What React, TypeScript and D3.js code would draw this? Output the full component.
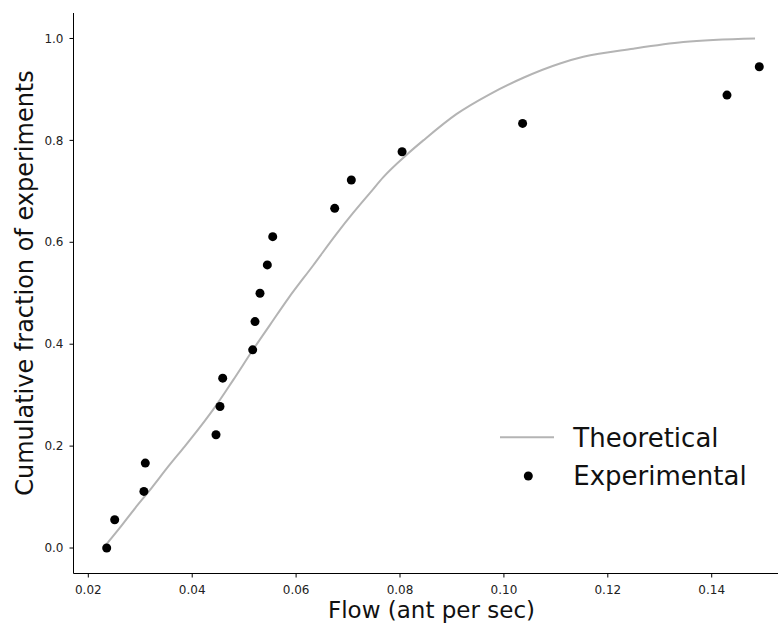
import React from "react";
import * as d3 from "d3";

// Experimental data (flow, cumulative fraction)
const expFlow = [
  0.02354, 0.02508, 0.0307, 0.03097, 0.04458, 0.04535, 0.04587, 0.05164, 0.05209,
  0.05305, 0.05446, 0.0555, 0.06743, 0.07063, 0.0804, 0.1036, 0.14294, 0.14916,
];
const expFrac = [
  0, 1 / 18, 2 / 18, 3 / 18, 4 / 18, 5 / 18, 6 / 18, 7 / 18, 8 / 18, 9 / 18,
  10 / 18, 11 / 18, 12 / 18, 13 / 18, 14 / 18, 15 / 18, 16 / 18, 17 / 18,
];

// Theoretical curve samples
const theoFlow = [
  0.0233, 0.02578, 0.02899, 0.0322, 0.0354, 0.03861, 0.04246, 0.04406, 0.04791,
  0.05176, 0.05498, 0.0585, 0.06331, 0.06782, 0.07101, 0.07423, 0.07679, 0.08129,
  0.08449, 0.09092, 0.09733, 0.10374, 0.1108, 0.11529, 0.12491, 0.13454, 0.14834,
];
const theoFrac = [
  0.005, 0.036, 0.078, 0.118, 0.16, 0.2, 0.25, 0.272, 0.33, 0.39, 0.438, 0.49,
  0.555, 0.617, 0.658, 0.697, 0.728, 0.772, 0.8, 0.852, 0.891, 0.923, 0.951, 0.964,
  0.98, 0.993, 1.0,
];

const xTicks = [0.02, 0.04, 0.06, 0.08, 0.1, 0.12, 0.14];
const yTicks = [0, 0.2, 0.4, 0.6, 0.8, 1.0];

const W = 778;
const H = 624;
const FONT = "DejaVu Sans, sans-serif";

export default function App() {
  const x = d3.scaleLinear().domain([0.01715, 0.15276]).range([73.5, 778]);
  const y = d3.scaleLinear().domain([-0.05, 1.05]).range([573.5, 13]);
  const x0 = 73.5;
  const yBottom = 573.5;

  const line = d3
    .line<number>()
    .x((_, i) => x(theoFlow[i]))
    .y((d) => y(d))
    .curve(d3.curveMonotoneX);

  return (
    <svg
      width={W}
      height={H}
      style={{ position: "absolute", left: 0, top: 0, background: "#fff" }}
      fontFamily={FONT}
    >
      <rect width={W} height={H} fill="#fff" />
      {/* theoretical curve */}
      <path
        d={line(theoFrac) || ""}
        fill="none"
        stroke="#b4b4b4"
        strokeWidth={2}
        strokeLinejoin="round"
      />
      {/* experimental points */}
      {expFlow.map((f, i) => (
        <circle key={i} cx={x(f)} cy={y(expFrac[i])} r={4.5} fill="#000" />
      ))}
      {/* spines */}
      <line x1={x0} x2={x0} y1={13} y2={yBottom} stroke="#000" strokeWidth={1} />
      <line x1={x0} x2={W} y1={yBottom} y2={yBottom} stroke="#000" strokeWidth={1} />
      {/* x ticks */}
      {xTicks.map((t) => (
        <g key={t} transform={`translate(${x(t)},${yBottom})`}>
          <line y1={0} y2={4} stroke="#000" strokeWidth={1} />
          <text y={20} textAnchor="middle" fontSize={12} fill="#222">
            {d3.format(".2f")(t)}
          </text>
        </g>
      ))}
      {/* y ticks */}
      {yTicks.map((t) => (
        <g key={t} transform={`translate(${x0},${y(t)})`}>
          <line x1={-4} x2={0} stroke="#000" strokeWidth={1} />
          <text x={-10} dy="0.35em" textAnchor="end" fontSize={12} fill="#222">
            {d3.format(".1f")(t)}
          </text>
        </g>
      ))}
      {/* axis labels */}
      <text x={431.5} y={618} textAnchor="middle" fontSize={23} fill="#111">
        Flow (ant per sec)
      </text>
      <text
        transform={`translate(32.5,283) rotate(-90)`}
        textAnchor="middle"
        fontSize={24}
        fill="#111"
      >
        Cumulative fraction of experiments
      </text>
      {/* legend */}
      <line x1={500} x2={554} y1={437.3} y2={437.3} stroke="#b4b4b4" strokeWidth={2} />
      <text x={573.3} y={447.3} fontSize={26} fill="#111">
        Theoretical
      </text>
      <circle cx={528.3} cy={476} r={4.5} fill="#000" />
      <text x={573.3} y={484.5} fontSize={26} fill="#111">
        Experimental
      </text>
    </svg>
  );
}
